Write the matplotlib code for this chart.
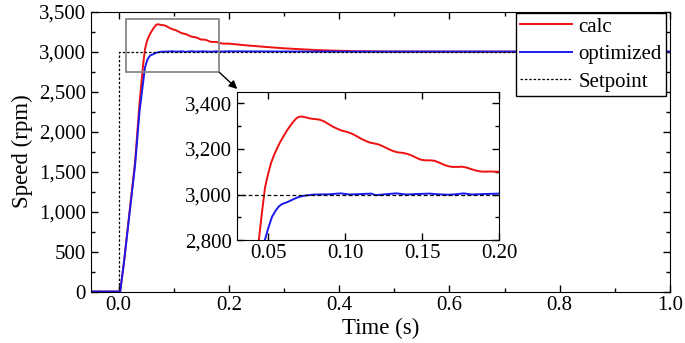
import matplotlib
matplotlib.use('Agg')
import matplotlib.pyplot as plt
from matplotlib.patches import Rectangle, ConnectionPatch
from matplotlib.ticker import MultipleLocator, FuncFormatter

plt.rcParams['font.family'] = ['Liberation Serif', 'DejaVu Serif']

# values
t_calc = [-0.05, 0.0, 0.003, 0.01, 0.02, 0.03, 0.038, 0.044, 0.046, 0.048, 0.050,
          0.052, 0.054, 0.056, 0.058, 0.060, 0.062, 0.064, 0.066, 0.068, 0.070,
          0.072, 0.074, 0.077, 0.080, 0.083, 0.086, 0.089, 0.092, 0.095, 0.098,
          0.101, 0.104, 0.107, 0.110, 0.113, 0.116, 0.119, 0.122, 0.125, 0.128,
          0.131, 0.134, 0.137, 0.140, 0.143, 0.146, 0.149, 0.152, 0.155, 0.158,
          0.161, 0.164, 0.167, 0.170, 0.173, 0.176, 0.179, 0.182, 0.185, 0.188,
          0.191, 0.194, 0.197, 0.200, 0.23, 0.27, 0.30, 0.331, 0.36, 0.39, 0.43,
          0.48, 0.6, 0.8, 1.0]
calc = [0, 0, 0, 380, 1000, 1620, 2350, 2800, 2920, 3030, 3090,
        3140, 3175, 3205, 3232, 3255, 3278, 3298, 3316, 3332, 3341,
        3342, 3339, 3334, 3331, 3329, 3322, 3310, 3298, 3288, 3280,
        3275, 3268, 3258, 3246, 3236, 3228, 3224, 3219, 3210, 3200,
        3191, 3185, 3183, 3179, 3172, 3162, 3153, 3150, 3150, 3148,
        3140, 3131, 3124, 3121, 3121, 3122, 3118, 3111, 3105, 3101,
        3100, 3101, 3100, 3100, 3080, 3057, 3042, 3030, 3020, 3013, 3006,
        3002, 3000, 3000, 3000]

t_opt = [-0.05, 0.0, 0.003, 0.01, 0.02, 0.03, 0.038, 0.0479, 0.050, 0.0526, 0.055,
         0.057, 0.059, 0.061, 0.063, 0.066, 0.069, 0.072, 0.076, 0.080, 0.09,
         0.097, 0.103, 0.11, 0.117, 0.12, 0.126, 0.133, 0.14, 0.146, 0.155,
         0.16, 0.167, 0.172, 0.177, 0.182, 0.19, 0.2, 0.3, 0.4, 0.6, 0.8, 1.0]
opt = [0, 0, 0, 370, 980, 1580, 2250, 2800, 2850, 2903, 2930,
       2948, 2958, 2963, 2968, 2978, 2987, 2993, 2997, 3000, 3001,
       3005, 3000, 3002, 3004, 2997, 3001, 3005, 3000, 3002, 3004,
       3001, 2999, 3001, 3005, 3000, 3002, 3004, 3002, 3000, 3001, 3000, 3000]

t_set = [-0.05, 0.0, 0.0, 1.0]
setpoint = [0, 0, 3000, 3000]

fig = plt.figure(figsize=(6.85, 3.43), dpi=100)
ax = fig.add_axes([0.1328, 0.150, 0.8452, 0.816])

ax.plot(t_calc, calc, color='#ee1111', lw=1.4, label='calc')
ax.plot(t_opt, opt, color='#1a1aee', lw=1.4, label='optimized')
ax.plot(t_set, setpoint, color='black', lw=0.9, ls=(0, (2, 1.5)), label='Setpoint')

comma = FuncFormatter(lambda v, p: '{:,.0f}'.format(v))

ax.set_xlim(-0.05, 1.0)
ax.set_ylim(0, 3500)
ax.xaxis.set_major_locator(MultipleLocator(0.2))
ax.xaxis.set_minor_locator(MultipleLocator(0.1))
ax.yaxis.set_major_locator(MultipleLocator(500))
ax.yaxis.set_minor_locator(MultipleLocator(250))
ax.yaxis.set_major_formatter(comma)
ax.xaxis.set_major_formatter(FuncFormatter(lambda v, p: '{:.1f}'.format(v)))
ax.tick_params(which='both', direction='in', top=True, right=True, labelsize=15, width=1)
ax.tick_params(which='major', length=5)
ax.tick_params(which='minor', length=3)
ax.set_xlabel('Time (s)', fontsize=16.5, labelpad=2)
ax.set_ylabel('Speed (rpm)', fontsize=16.5, labelpad=4)

leg = ax.legend(loc='upper right', bbox_to_anchor=(0.993, 0.996), fontsize=15,
                frameon=True, fancybox=False, edgecolor='black', framealpha=1,
                handlelength=2.5, handletextpad=0.3, borderpad=0.2,
                labelspacing=0.38, borderaxespad=0)
leg.get_frame().set_linewidth(1.0)

# zoom box
ax.add_patch(Rectangle((0.013, 2740), 0.17, 670, fill=False, edgecolor='#888888', lw=1.3, zorder=5))

ins = fig.add_axes([0.3464, 0.300, 0.3822, 0.432])
ins.plot(t_calc, calc, color='#ee1111', lw=1.4)
ins.plot(t_opt, opt, color='#1a1aee', lw=1.4)
ins.plot(t_set, setpoint, color='black', lw=0.9, ls=(0, (3, 2)))
ins.set_xlim(0.03, 0.20)
ins.set_ylim(2800, 3450)
ins.xaxis.set_major_locator(MultipleLocator(0.05))
ins.yaxis.set_major_locator(MultipleLocator(200))
ins.yaxis.set_minor_locator(MultipleLocator(100))
ins.yaxis.set_major_formatter(comma)
ins.xaxis.set_major_formatter(FuncFormatter(lambda v, p: '{:.2f}'.format(v)))
ins.tick_params(which='both', direction='in', top=True, right=True, labelsize=15, width=1)
ins.tick_params(which='major', length=5)
ins.tick_params(which='minor', length=3)
ins.xaxis.set_tick_params(pad=3)

con = ConnectionPatch(xyA=(0.183, 2740), coordsA=ax.transData,
                      xyB=(0.0, 1.02), coordsB=ins.transAxes,
                      arrowstyle='-|>', color='black', lw=1.0, mutation_scale=12)
fig.add_artist(con)

fig.savefig('out.png', dpi=100)
